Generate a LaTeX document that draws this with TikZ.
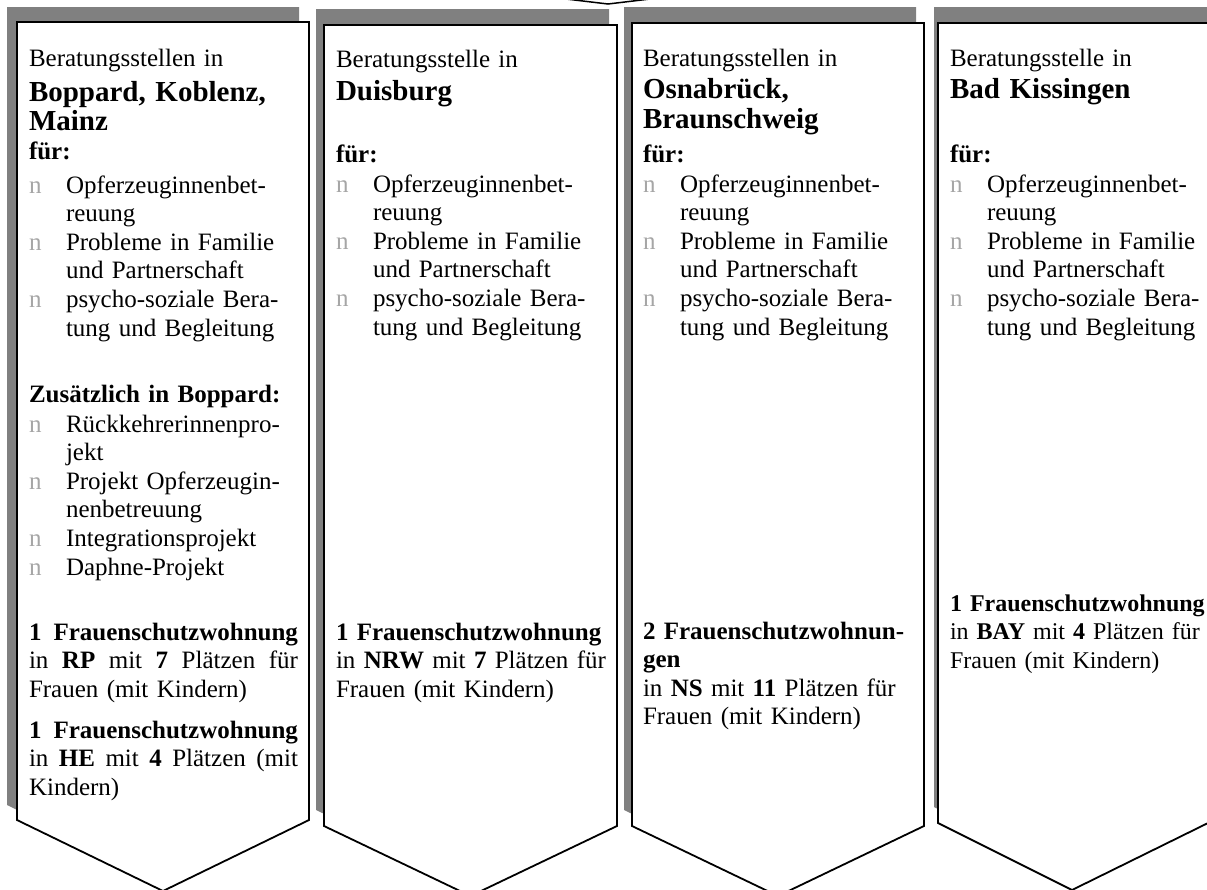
\documentclass[tikz,border=0pt]{standalone}
\usepackage{fontspec}
\setmainfont{Liberation Serif}
\definecolor{shadowgray}{HTML}{808080}
\definecolor{bulgray}{HTML}{A6A6A6}
\newcommand{\bodyfont}{\fontsize{25}{28.6}\selectfont}
\newcommand{\smallbodyfont}{\fontsize{24}{28.6}\selectfont}
\newcommand{\headfont}{\fontsize{29}{29.5}\selectfont\bfseries}
\newcommand{\bitem}[1]{\makebox[37pt][l]{\textcolor{bulgray}{n}}#1}
\newcommand{\cont}[1]{\hspace*{37pt}#1}
\tikzset{
  panel/.style={draw=black, line width=1.8pt, fill=white, line join=miter},
  panelshadow/.style={fill=shadowgray, draw=none},
  txt/.style={anchor=base west, inner sep=0pt, outer sep=0pt, align=left, text width=270pt, font=\bodyfont},
  head/.style={txt, font=\headfont},
  chev/.style={draw=black, line width=1.5pt}
}
\begin{document}
\begin{tikzpicture}[x=1pt,y=-1pt]
\useasboundingbox (0,0) rectangle (1207,889);
\clip (0,0) rectangle (1207,889);
% top chevron
\draw[chev] (566,-1) -- (608,4) -- (650,-1);
% shadows
\fill[panelshadow] (7,7) -- (299,7) -- (299,805) -- (153,876) -- (7,805) -- cycle;
\fill[panelshadow] (316,9) -- (609,9) -- (609,810) -- (462.5,880) -- (316,810) -- cycle;
\fill[panelshadow] (624,7) -- (916,7) -- (916,810) -- (770,880) -- (624,810) -- cycle;
\fill[panelshadow] (934,7) -- (1212,7) -- (1212,807) -- (1072,877) -- (934,807) -- cycle;
% panels
\draw[panel] (17,22) -- (309,22) -- (309,820) -- (163,891) -- (17,820) -- cycle;
\draw[panel] (324,25) -- (617,25) -- (617,826) -- (470.5,896) -- (324,826) -- cycle;
\draw[panel] (632,23) -- (924,23) -- (924,826) -- (778,896) -- (632,826) -- cycle;
\draw[panel] (938,23) -- (1208,23) -- (1208,823) -- (1072,890) -- (938,823) -- cycle;

% ---- box 1
\node[txt] (a1) at (29,66) {Beratungsstellen in};
\node[head] (a2) at (29,101) {Boppard, Koblenz,\\Mainz};
\node[txt] (a3) at (29,159) {\textbf{für:}};
\node[txt] (a4) at (29,193) {\bitem{Opferzeuginnenbet-}\\\cont{reuung}\\\bitem{Probleme in Familie}\\\cont{und Partnerschaft}\\\bitem{psycho-soziale Bera-}\\\cont{tung und Begleitung}};
\node[txt] (a5) at (29,402) {\textbf{Zusätzlich in Boppard:}};
\node[txt] (a6) at (29,432) {\bitem{Rückkehrerinnenpro-}\\\cont{jekt}\\\bitem{Projekt Opferzeugin-}\\\cont{nenbetreuung}\\\bitem{Integrationsprojekt}\\\bitem{Daphne-Projekt}};
\node[txt, text width=269pt] (a7) at (29,640) {\textbf{1}\hfill\textbf{Frauenschutzwohnung}\\in\hfill\textbf{RP}\hfill mit\hfill\textbf{7}\hfill Plätzen\hfill für\\Frauen (mit Kindern)};
\node[txt, text width=269pt] (a8) at (29,738) {\textbf{1}\hfill\textbf{Frauenschutzwohnung}\\in\hfill\textbf{HE}\hfill mit\hfill\textbf{4}\hfill Plätzen\hfill(mit\\Kindern)};

% ---- box 2
\node[txt] (b1) at (336,67) {Beratungsstelle in};
\node[head] (b2) at (336,100) {Duisburg};
\node[txt] (b3) at (336,162) {\textbf{für:}};
\node[txt] (b4) at (336,192) {\bitem{Opferzeuginnenbet-}\\\cont{reuung}\\\bitem{Probleme in Familie}\\\cont{und Partnerschaft}\\\bitem{psycho-soziale Bera-}\\\cont{tung und Begleitung}};
\node[txt] (b5) at (336,640) {\textbf{1 Frauenschutzwohnung}\\in \textbf{NRW} mit \textbf{7} Plätzen für\\Frauen (mit Kindern)};

% ---- box 3
\node[txt] (c1) at (643,66) {Beratungsstellen in};
\node[head, font=\fontsize{29}{30}\selectfont\bfseries] (c2) at (643,98) {Osnabrück,\\Braunschweig};
\node[txt] (c3) at (643,162) {\textbf{für:}};
\node[txt] (c4) at (643,192) {\bitem{Opferzeuginnenbet-}\\\cont{reuung}\\\bitem{Probleme in Familie}\\\cont{und Partnerschaft}\\\bitem{psycho-soziale Bera-}\\\cont{tung und Begleitung}};
\node[txt] (c5) at (643,639) {\textbf{2 Frauenschutzwohnun-}\\\textbf{gen}\\in \textbf{NS} mit \textbf{11} Plätzen für\\Frauen (mit Kindern)};

% ---- box 4
\node[txt] (d1) at (950,66) {Beratungsstelle in};
\node[head] (d2) at (950,98) {Bad Kissingen};
\node[txt] (d3) at (950,162) {\textbf{für:}};
\node[txt] (d4) at (950,192) {\bitem{Opferzeuginnenbet-}\\\cont{reuung}\\\bitem{Probleme in Familie}\\\cont{und Partnerschaft}\\\bitem{psycho-soziale Bera-}\\\cont{tung und Begleitung}};
\node[txt, font=\smallbodyfont] (d5) at (950,611) {\textbf{1 Frauenschutzwohnung}\\in \textbf{BAY} mit \textbf{4} Plätzen für\\Frauen (mit Kindern)};
\end{tikzpicture}
\end{document}
